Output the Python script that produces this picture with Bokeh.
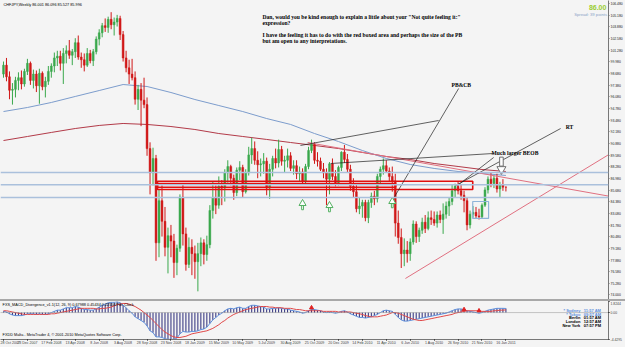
from bokeh.plotting import figure
from bokeh.layouts import column
from bokeh.models import Range1d, FixedTicker, Label, ColumnDataSource, Div, Span, NumeralTickFormatter
from bokeh.embed import file_html
from bokeh.resources import INLINE

# ---------------- data ----------------
opens = [98.6, 99.6, 98.3, 96.8, 96.9, 97.9, 98.2, 97.5,
         98.9, 99.8, 97.9, 98.6, 97.3, 98.7, 97.2, 97.8,
         98.9, 99.5, 100.4, 100.6, 99.8, 100.9, 101.2, 100.7,
         101.1, 102.1, 100.5, 100.2, 99.6, 100.9, 100.1, 101.1,
         102.5, 103.2, 104.0, 103.8, 104.7, 104.1, 104.4, 104.8,
         103.0, 100.4, 99.3, 98.6, 98.2, 95.8, 96.9, 95.7,
         95.2, 90.3, 87.6, 89.2, 79.8, 84.5, 82.2, 79.3,
         80.6, 80.0, 77.6, 79.2, 84.9, 80.8, 77.4, 79.3,
         78.6, 77.7, 78.6, 79.8, 78.5, 79.6, 83.4, 84.8,
         84.0, 86.1, 85.9, 87.6, 88.3, 87.0, 85.4, 87.9,
         88.2, 85.5, 87.6, 89.6, 90.3, 89.0, 88.5, 88.6,
         88.9, 85.9, 88.0, 89.2, 88.7, 90.2, 88.9, 89.0,
         89.5, 88.1, 88.4, 87.5, 87.7, 86.6, 88.3, 90.1,
         90.8, 89.0, 88.9, 88.0, 87.6, 86.9, 88.6, 87.2,
         86.5, 88.2, 89.9, 89.1, 88.0, 86.1, 85.5, 83.6,
         83.9, 84.3, 82.6, 84.3, 85.0, 84.7, 87.2, 88.0,
         88.4, 87.8, 87.2, 86.7, 82.0, 80.4, 78.6, 79.0,
         78.6, 79.9, 81.9, 80.5, 81.2, 82.1, 81.4, 82.6,
         82.4, 82.0, 82.9, 82.4, 83.0, 83.9, 84.4, 85.6,
         86.1, 85.6, 85.1, 84.5, 81.8, 83.0, 83.2, 82.8,
         82.7, 84.0, 85.7, 86.9, 86.4, 87.0, 85.8, 86.3, 86.001]
highs = [100.0, 100.4, 98.9, 97.6, 98.3, 98.8, 99.0, 99.2,
         100.3, 100.0, 99.1, 99.0, 99.2, 98.9, 98.3, 99.5,
         99.8, 101.0, 101.2, 101.2, 101.5, 101.8, 102.4, 101.4,
         102.6, 102.9, 101.0, 100.9, 101.5, 101.3, 101.4, 102.8,
         103.6, 104.3, 104.8, 105.0, 105.5, 104.9, 105.2, 105.1,
         103.4, 101.2, 100.2, 100.3, 98.9, 97.4, 97.6, 98.2,
         96.0, 91.0, 90.4, 89.6, 85.8, 86.2, 83.8, 81.5,
         81.8, 80.8, 79.6, 85.2, 86.4, 81.5, 80.4, 80.2,
         79.5, 79.8, 80.4, 80.2, 80.6, 84.0, 86.6, 86.2,
         87.2, 86.8, 88.0, 89.0, 88.5, 87.4, 88.2, 88.9,
         88.5, 88.0, 90.5, 91.5, 91.1, 90.0, 89.2, 89.8,
         89.3, 88.6, 89.5, 90.3, 91.3, 90.6, 89.5, 90.3,
         89.9, 89.0, 89.0, 88.3, 88.1, 88.6, 90.5, 91.3,
         91.0, 89.9, 89.3, 88.7, 88.1, 88.8, 89.2, 87.9,
         88.4, 90.0, 90.7, 89.7, 88.5, 87.0, 86.4, 84.9,
         84.6, 84.6, 84.6, 85.4, 85.6, 87.5, 88.3, 89.2,
         89.0, 88.2, 88.3, 87.5, 83.4, 81.4, 80.3, 80.0,
         80.3, 82.3, 82.2, 81.5, 82.6, 82.9, 83.3, 83.4,
         83.3, 83.3, 83.4, 84.2, 84.4, 84.8, 86.3, 86.4,
         86.6, 86.3, 85.6, 84.8, 83.4, 83.9, 83.8, 83.6,
         84.2, 86.0, 87.2, 87.6, 87.3, 87.5, 86.6, 86.9, 86.096]
lows = [98.2, 97.8, 95.8, 95.2, 96.0, 96.8, 96.9, 97.2,
        98.5, 97.4, 97.0, 96.6, 95.3, 96.8, 96.0, 97.4,
        98.2, 98.8, 99.5, 99.0, 97.5, 99.8, 100.3, 99.6,
        100.4, 100.2, 99.3, 98.9, 99.4, 99.8, 99.5, 100.8,
        101.8, 102.7, 103.3, 103.2, 103.6, 102.9, 103.9, 102.4,
        100.0, 98.8, 97.5, 97.9, 95.2, 94.6, 92.8, 94.8,
        89.5, 85.2, 86.2, 77.8, 78.2, 80.5, 78.3, 76.4,
        78.2, 75.9, 76.2, 78.8, 79.5, 76.7, 77.0, 76.2,
        75.8, 74.4, 77.2, 77.4, 77.8, 79.2, 82.5, 83.0,
        83.6, 84.0, 84.4, 86.5, 86.2, 84.6, 85.0, 86.8,
        84.9, 85.3, 87.3, 88.6, 88.5, 87.0, 87.2, 87.5,
        85.1, 84.7, 87.2, 88.1, 88.2, 88.4, 87.6, 88.2,
        87.8, 87.4, 86.9, 86.6, 86.3, 86.3, 88.0, 89.8,
        88.6, 88.3, 87.8, 87.0, 84.0, 85.2, 86.8, 86.1,
        86.2, 87.8, 88.7, 87.6, 85.6, 84.8, 83.2, 83.0,
        82.6, 82.2, 82.0, 83.7, 84.0, 84.3, 86.4, 87.4,
        87.6, 86.6, 85.5, 80.5, 79.7, 77.0, 77.2, 77.6,
        77.8, 79.6, 79.8, 79.9, 80.8, 80.9, 81.2, 81.8,
        81.7, 81.5, 82.0, 80.8, 82.5, 82.8, 84.0, 84.9,
        85.2, 84.6, 83.2, 81.2, 81.4, 82.6, 82.5, 82.4,
        82.5, 83.8, 85.3, 86.0, 85.9, 85.4, 84.8, 85.6, 85.527]
closes = [99.6, 98.3, 96.8, 96.9, 97.9, 98.2, 97.5, 98.9,
          99.8, 97.9, 98.6, 97.3, 98.7, 97.2, 97.8, 98.9,
          99.5, 100.4, 100.6, 99.8, 100.9, 101.2, 100.7, 101.1,
          102.1, 100.5, 100.2, 99.6, 100.9, 100.1, 101.1, 102.5,
          103.2, 104.0, 103.8, 104.7, 104.1, 104.4, 104.8, 103.0,
          100.4, 99.3, 98.6, 98.2, 95.8, 96.9, 95.7, 95.2,
          90.3, 87.6, 89.2, 79.8, 84.5, 82.2, 79.3, 80.6,
          80.0, 77.6, 79.2, 84.9, 80.8, 77.4, 79.3, 78.6,
          77.7, 78.6, 79.8, 78.5, 79.6, 83.4, 84.8, 84.0,
          86.1, 85.9, 87.6, 88.3, 87.0, 85.4, 87.9, 88.2,
          85.5, 87.6, 89.6, 90.3, 89.0, 88.5, 88.6, 88.9,
          85.9, 88.0, 89.2, 88.7, 90.2, 88.9, 89.0, 89.5,
          88.1, 88.4, 87.5, 87.7, 86.6, 88.3, 90.1, 90.8,
          89.0, 88.9, 88.0, 87.6, 86.9, 88.6, 87.2, 86.5,
          88.2, 89.9, 89.1, 88.0, 86.1, 85.5, 83.6, 83.9,
          84.3, 82.6, 84.3, 85.0, 84.7, 87.2, 88.0, 88.4,
          87.8, 87.2, 86.7, 82.0, 80.4, 78.6, 79.0, 78.6,
          79.9, 81.9, 80.5, 81.2, 82.1, 81.4, 82.6, 82.4,
          82.0, 82.9, 82.4, 83.0, 83.9, 84.4, 85.6, 86.1,
          85.6, 85.1, 84.5, 81.8, 83.0, 83.2, 82.8, 82.7,
          84.0, 85.7, 86.9, 86.4, 87.0, 85.8, 86.3, 86.0, 85.996]

macd = [0.2, 0.1, -0.2, -0.4, -0.5, -0.5, -0.5, -0.4,
        -0.2, -0.2, -0.2, -0.3, -0.2, -0.3, -0.3, -0.2,
        0.0, 0.2, 0.4, 0.4, 0.6, 0.8, 0.8, 0.8,
        1.0, 0.9, 0.7, 0.5, 0.5, 0.4, 0.4, 0.6,
        0.9, 1.2, 1.4, 1.6, 1.7, 1.7, 1.8, 1.6,
        1.2, 0.8, 0.3, -0.1, -0.7, -1.0, -1.3, -1.6,
        -2.2, -3.0, -3.3, -4.0, -4.0, -4.1, -4.3, -4.4,
        -4.4, -4.4, -4.2, -3.5, -3.1, -3.2, -3.2, -3.1,
        -3.1, -3.0, -2.8, -2.7, -2.4, -1.8, -1.2, -0.8,
        -0.4, -0.1, 0.3, 0.6, 0.7, 0.6, 0.8, 0.9,
        0.7, 0.7, 1.0, 1.2, 1.2, 1.1, 1.0, 0.9,
        0.6, 0.6, 0.7, 0.7, 0.8, 0.7, 0.6, 0.6,
        0.4, 0.3, 0.2, 0.1, -0.1, 0.0, 0.3, 0.5,
        0.5, 0.4, 0.3, 0.1, 0.0, 0.1, 0.0, -0.1,
        0.0, 0.2, 0.3, 0.1, -0.2, -0.4, -0.6, -0.8,
        -0.8, -0.9, -0.8, -0.7, -0.5, -0.3, 0.0, 0.3,
        0.4, 0.3, 0.2, -0.3, -0.8, -1.2, -1.4, -1.4,
        -1.3, -1.2, -1.1, -1.0, -0.9, -0.8, -0.7, -0.6,
        -0.5, -0.4, -0.3, -0.2, -0.1, 0.1, 0.3, 0.5,
        0.6, 0.6, 0.5, 0.3, 0.2, 0.1, 0.0, -0.1,
        0.0, 0.2, 0.4, 0.5, 0.6, 0.7, 0.7, 0.7, 0.68]
signal = [0.3, 0.3, 0.2, 0.1, 0.0, -0.1, -0.2, -0.3,
          -0.3, -0.3, -0.3, -0.3, -0.3, -0.3, -0.3, -0.3,
          -0.2, -0.2, -0.1, 0.0, 0.1, 0.2, 0.3, 0.4,
          0.5, 0.6, 0.7, 0.7, 0.7, 0.7, 0.7, 0.6,
          0.6, 0.7, 0.7, 0.8, 0.9, 1.1, 1.3, 1.4,
          1.5, 1.5, 1.4, 1.2, 1.0, 0.7, 0.4, 0.0,
          -0.4, -0.8, -1.3, -1.8, -2.3, -2.8, -3.2, -3.5,
          -3.8, -4.0, -4.1, -4.1, -4.0, -3.9, -3.7, -3.5,
          -3.4, -3.3, -3.2, -3.1, -3.0, -2.8, -2.6, -2.3,
          -2.0, -1.6, -1.3, -0.9, -0.6, -0.3, -0.1, 0.1,
          0.3, 0.5, 0.6, 0.7, 0.8, 0.9, 1.0, 1.0,
          1.0, 0.9, 0.9, 0.8, 0.8, 0.8, 0.7, 0.7,
          0.7, 0.6, 0.5, 0.5, 0.4, 0.3, 0.3, 0.3,
          0.3, 0.3, 0.3, 0.2, 0.2, 0.2, 0.2, 0.2,
          0.1, 0.1, 0.1, 0.1, 0.1, 0.0, -0.1, -0.2,
          -0.3, -0.5, -0.6, -0.7, -0.7, -0.7, -0.6, -0.5,
          -0.4, -0.2, 0.0, 0.0, -0.1, -0.3, -0.5, -0.7,
          -0.9, -1.1, -1.2, -1.3, -1.3, -1.2, -1.1, -1.0,
          -0.9, -0.8, -0.7, -0.6, -0.5, -0.4, -0.3, -0.1,
          0.0, 0.1, 0.2, 0.3, 0.3, 0.3, 0.3, 0.3,
          0.2, 0.2, 0.2, 0.2, 0.3, 0.3, 0.4, 0.4, 0.45]

ma_bars = [0, 8, 16, 24, 32, 40, 48, 56, 64, 72, 80, 88, 96, 104, 112, 120, 128, 136, 144, 152, 160, 168]
blue_ma = [94.43, 94.88, 95.44, 96.11, 96.77, 97.44, 97.22, 96.55, 95.77, 95.10, 94.43, 93.65,
           92.99, 91.98, 91.09, 90.09, 89.20, 88.53, 88.09, 87.75, 87.53, 87.31]
red_ma = [91.20, 91.65, 92.10, 92.54, 92.88, 93.10, 92.99, 92.76, 92.43, 91.98, 91.65, 91.32,
          90.98, 90.65, 90.31, 89.87, 89.42, 89.09, 88.64, 88.31, 87.97, 87.75]

date_ticks = [0, 8, 16, 24, 32, 40, 48, 56, 64, 72, 80, 88, 96, 104, 112, 120, 128, 136, 144, 152, 160, 168]
date_labels = ["28 Oct 2007", "23 Dec 2007", "17 Feb 2008", "13 Apr 2008", "8 Jun 2008", "3 Aug 2008",
               "28 Sep 2008", "23 Nov 2008", "18 Jan 2009", "15 Mar 2009", "10 May 2009", "5 Jul 2009",
               "30 Aug 2009", "25 Oct 2009", "20 Dec 2009", "14 Feb 2010", "11 Apr 2010", "6 Jun 2010",
               "1 Aug 2010", "26 Sep 2010", "21 Nov 2010", "16 Jan 2011"]
price_ticks = [106.48, 105.18, 103.88, 102.58, 101.28, 99.98, 98.68, 97.38, 96.08, 94.78, 93.48, 92.18,
               90.88, 89.58, 88.28, 86.98, 85.68, 84.38, 83.08, 81.78, 80.48, 79.18, 77.88, 76.58, 75.28, 74.00]
macd_ticks = [1.8244, 0.0, -4.4295]
macd_tick_labels = ["1.8244", "0.00", "-4.4295"]

# drawn objects (bar index, price)
hlines = [87.64, 86.27, 84.85]
box_left = [51.5, 51.5]
box_right = [156.9, 131.1]
box_top = [86.67, 86.41]
box_bottom = [85.75, 86.00]
blue_box = [156.9, 162.2, 84.41, 82.52]
red_tl_x0 = [101.7, 134.4]
red_tl_y0 = [90.98, 75.83]
red_tl_x1 = [203.0, 203.0]
red_tl_y1 = [84.97, 89.76]
blk_x0 = [152.2, 99.3, 186.3, 163.9, 109.4]
blk_y0 = [97.00, 90.65, 92.54, 89.31, 88.64]
blk_x1 = [130.4, 145.5, 151.2, 151.8, 163.9]
blk_y1 = [84.74, 93.43, 86.19, 86.19, 89.76]
up_arrow_bar = [100, 109, 130]
up_arrow_price = [84.19, 83.96, 84.41]
down_arrow_bar = [166.5]
down_arrow_price = [88.0]
macd_marks_bar = [103, 154, 159]
macd_marks_val = [0.8, 0.5, 0.3]

BG = "#f4f4f4"
SANS = "Liberation Sans"
SERIF = "Liberation Serif"
GREEN = "#3aa84c"
RED = "#d01818"
AXFONT = "3.4px"

XR = Range1d(-1.0, 202.3)

# ---------------- main price panel ----------------
p = figure(frame_width=608, frame_height=299, x_range=XR, y_range=Range1d(73.49, 106.80),
           output_backend="svg", toolbar_location=None, x_axis_location=None, y_axis_location="right",
           min_border_left=0, min_border_top=0, min_border_bottom=0, min_border_right=0,
           background_fill_color=BG, border_fill_color=BG, margin=0)
p.outline_line_color = None
p.grid.visible = False
ya = p.yaxis[0]
ya.ticker = FixedTicker(ticks=price_ticks)
ya.formatter = NumeralTickFormatter(format="0.000")
ya.major_label_text_font = SANS
ya.major_label_text_font_size = AXFONT
ya.major_label_text_color = "#222222"
ya.major_tick_out = 1
ya.major_tick_in = 0
ya.minor_tick_out = 0
ya.minor_tick_in = 0
ya.major_label_standoff = 1
ya.axis_line_color = "#777777"
ya.major_tick_line_color = "#777777"

for h in hlines:
    p.add_layout(Span(location=h, dimension="width", line_color="#aac0dc", line_width=1.5))

bars = list(range(len(closes)))
cols = [GREEN if c >= o else RED for o, c in zip(opens, closes)]
src = ColumnDataSource(dict(x=bars, o=opens, h=highs, l=lows, c=closes,
                            top=[max(o, c) for o, c in zip(opens, closes)],
                            bot=[min(o, c) for o, c in zip(opens, closes)], col=cols))
p.line(ma_bars, red_ma, line_color="#b23a48", line_width=1)
p.line(ma_bars, blue_ma, line_color="#7c9ccc", line_width=1)
p.segment(x0="x", y0="l", x1="x", y1="h", line_color="col", line_width=1, source=src)
p.vbar(x="x", width=0.62, top="top", bottom="bot", fill_color="col", line_color="col", line_width=0.5, source=src)

p.quad(left=box_left, right=box_right, top=box_top, bottom=box_bottom, fill_alpha=0,
       line_color="#e01010", line_width=1.6)
p.quad(left=[blue_box[0]], right=[blue_box[1]], top=[blue_box[2]], bottom=[blue_box[3]],
       fill_alpha=0, line_color="#8fb4d8", line_width=1.2)
p.segment(x0=red_tl_x0, y0=red_tl_y0, x1=red_tl_x1, y1=red_tl_y1, line_color="#e07080", line_width=1)
p.segment(x0=blk_x0, y0=blk_y0, x1=blk_x1, y1=blk_y1, line_color="#202020", line_width=0.7)

p.rect(x=up_arrow_bar, y=[v - 0.45 for v in up_arrow_price], width=0.6, height=0.5,
       fill_color="white", line_color="#52b060", line_width=1)
p.scatter(x=up_arrow_bar, y=up_arrow_price, marker="triangle", size=7,
          fill_color="white", line_color="#52b060", line_width=1)
p.rect(x=down_arrow_bar, y=[v + 0.85 for v in down_arrow_price], width=1.2, height=1.0,
       fill_color="white", line_color="#707070", line_width=1)
p.scatter(x=down_arrow_bar, y=down_arrow_price, marker="inverted_triangle", size=9,
          fill_color="white", line_color="#707070", line_width=1)

def lab(fig, x, y, text, size, color="#000000", font=SANS, bold=False, align="left", bg=None):
    l = Label(x=x, y=y, text=text, text_font=font, text_font_size=size, text_color=color,
              text_align=align, text_baseline="middle", text_font_style="bold" if bold else "normal")
    if bg is not None:
        l.background_fill_color = bg
    fig.add_layout(l)

lab(p, 0.0, 106.35, "CHFJPY,Weekly  86.001 86.096 85.527 85.996", "3.8px")
lab(p, 201.6, 106.05, "86.00", "7px", color="#9acd32", bold=True, align="right")
lab(p, 201.8, 105.24, "Spread: 39 points", "4.2px", color="#8aa4c8", align="right")
lab(p, 86.6, 104.96, "Dan, would you be kind enough to explain a little about your \"Not quite feeling it:\"", "5.6px", font=SERIF, bold=True)
lab(p, 86.6, 104.29, "expression?", "5.6px", font=SERIF, bold=True)
lab(p, 86.6, 102.96, "I have the feeling it has to do with the red boxed area and perhaps the size of the PB", "5.6px", font=SERIF, bold=True)
lab(p, 86.6, 102.29, "but am open to any interpretations.", "5.6px", font=SERIF, bold=True)
lab(p, 149.8, 97.44, "PB&CB", "5.6px", font=SERIF, bold=True)
lab(p, 188.0, 92.76, "RT", "5.6px", font=SERIF, bold=True)
lab(p, 163.2, 89.76, "Much larger BEOB", "5.6px", font=SERIF, bold=True)
lab(p, 202.7, 85.996, "85.996", AXFONT, color="white", bg="#000000")

# ---------------- MACD panel ----------------
q = figure(frame_width=608, frame_height=38, x_range=XR, y_range=Range1d(-4.4295, 1.8244),
           output_backend="svg", toolbar_location=None, y_axis_location="right",
           min_border_left=0, min_border_top=0, min_border_bottom=0, min_border_right=0,
           background_fill_color=BG, border_fill_color=BG, margin=0)
q.outline_line_color = None
q.grid.visible = False
qy = q.yaxis[0]
qy.ticker = FixedTicker(ticks=macd_ticks)
qy.major_label_overrides = {t: s for t, s in zip(macd_ticks, macd_tick_labels)}
qy.major_label_text_font = SANS
qy.major_label_text_font_size = AXFONT
qy.major_tick_out = 1
qy.major_tick_in = 0
qy.minor_tick_out = 0
qy.minor_tick_in = 0
qy.major_label_standoff = 1
qy.axis_line_color = "#777777"
qx = q.xaxis[0]
qx.ticker = FixedTicker(ticks=date_ticks)
qx.major_label_overrides = {t: s for t, s in zip(date_ticks, date_labels)}
qx.major_label_text_font = SANS
qx.major_label_text_font_size = "3.6px"
qx.major_label_text_align = "left"
qx.major_tick_out = 1
qx.major_tick_in = 0
qx.minor_tick_out = 0
qx.minor_tick_in = 0
qx.major_label_standoff = 0
qx.axis_line_color = "#777777"

q.add_layout(Span(location=0, dimension="width", line_color="#909090", line_dash="1 1", line_width=1))
q.segment(x0=bars, y0=[0] * len(bars), x1=bars, y1=macd, line_color="#2b2b7a", line_width=1)
q.line(bars, macd, line_color="#5d8fdc", line_width=1)
q.line(bars, signal, line_color="#e04848", line_width=1)
q.scatter(x=macd_marks_bar, y=macd_marks_val, marker="triangle", size=4, fill_color="#e02020", line_color="#e02020")

lab(q, -0.3, 1.17, "FXS_MACD_Divergence_v1.1(12, 26, 9) 0.67988 0.45434 0.22554  Pdc Clock", "3.8px")
lab(q, -0.3, -3.77, "FXDD Malta - MetaTrader 4, \u00a9 2001-2010 MetaQuotes Software Corp.", "3.8px")
clock_names = ["* Sydney", "* Tokyo", "Berlin", "London", "New York"]
clock_times = ["11:57 AM", "09:57 AM", "01:57 AM", "12:57 AM", "07:57 PM"]
clock_cols = ["#5d8fdc", "#5d8fdc", "#000000", "#000000", "#000000"]
clock_y = [0.34, -0.32, -0.89, -1.47, -2.12]
for nm, tm, cl, yy in zip(clock_names, clock_times, clock_cols, clock_y):
    lab(q, 192.9, yy, nm, "4px", color=cl, bold=True, align="right")
    lab(q, 194.0, yy, tm, "4px", color=cl, bold=True)

sep = Div(width=625, height=2, margin=0, styles={"background-color": "#a8a8a8"})
layout = column(p, sep, q, spacing=0, margin=0, styles={"background-color": BG})
open("out.html", "w").write(file_html(layout, INLINE))
